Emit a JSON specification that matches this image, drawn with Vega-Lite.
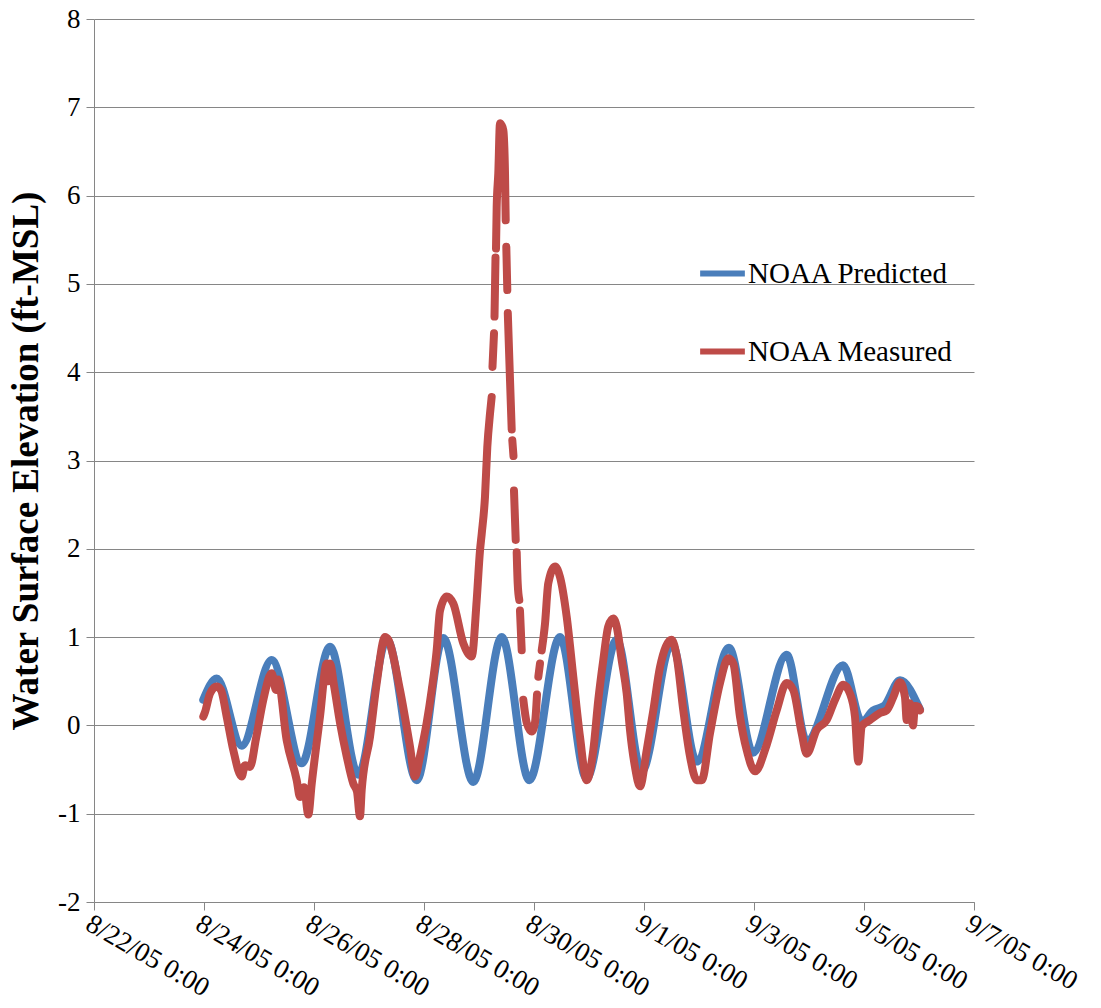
{
  "$schema": "https://vega.github.io/schema/vega-lite/v6.json",
  "width": 880,
  "height": 883,
  "autosize": "none",
  "padding": {"left": 94, "top": 19, "right": 127, "bottom": 106},
  "background": "white",
  "config": {
    "view": {"stroke": null},
    "font": "Liberation Serif",
    "axis": {"labelFont": "Liberation Serif", "titleFont": "Liberation Serif", "labelColor": "black", "titleColor": "black"}
  },
  "datasets": {
    "predicted": [
      {"time": "2005-08-23T23:40", "value": 0.29},
      {"time": "2005-08-24T05:32", "value": 0.53},
      {"time": "2005-08-24T16:27", "value": -0.23},
      {"time": "2005-08-25T05:32", "value": 0.74},
      {"time": "2005-08-25T18:38", "value": -0.43},
      {"time": "2005-08-26T06:59", "value": 0.89},
      {"time": "2005-08-26T19:20", "value": -0.56},
      {"time": "2005-08-27T07:51", "value": 0.97},
      {"time": "2005-08-27T20:49", "value": -0.62},
      {"time": "2005-08-28T08:25", "value": 0.99},
      {"time": "2005-08-28T21:31", "value": -0.64},
      {"time": "2005-08-29T09:55", "value": 1.0},
      {"time": "2005-08-29T21:57", "value": -0.62},
      {"time": "2005-08-30T11:21", "value": 1.0},
      {"time": "2005-08-30T22:55", "value": -0.6},
      {"time": "2005-08-31T12:05", "value": 0.97},
      {"time": "2005-08-31T23:00", "value": -0.52},
      {"time": "2005-09-01T12:05", "value": 0.93},
      {"time": "2005-09-01T23:00", "value": -0.41},
      {"time": "2005-09-02T13:05", "value": 0.88},
      {"time": "2005-09-02T23:34", "value": -0.31},
      {"time": "2005-09-03T14:16", "value": 0.8},
      {"time": "2005-09-03T23:00", "value": -0.18},
      {"time": "2005-09-04T14:50", "value": 0.68},
      {"time": "2005-09-04T23:08", "value": 0.04},
      {"time": "2005-09-05T03:56", "value": 0.17},
      {"time": "2005-09-05T08:44", "value": 0.22},
      {"time": "2005-09-05T15:43", "value": 0.51},
      {"time": "2005-09-06T00:26", "value": 0.18}
    ],
    "measured": [
      {"seg": "a", "time": "2005-08-23T23:42", "value": 0.1},
      {"seg": "a", "time": "2005-08-24T00:26", "value": 0.15},
      {"seg": "a", "time": "2005-08-24T02:37", "value": 0.36},
      {"seg": "a", "time": "2005-08-24T05:32", "value": 0.44},
      {"seg": "a", "time": "2005-08-24T07:25", "value": 0.4},
      {"seg": "a", "time": "2005-08-24T09:54", "value": 0.1},
      {"seg": "a", "time": "2005-08-24T12:47", "value": -0.28},
      {"seg": "a", "time": "2005-08-24T16:27", "value": -0.58},
      {"seg": "a", "time": "2005-08-24T17:53", "value": -0.45},
      {"seg": "a", "time": "2005-08-24T20:04", "value": -0.47},
      {"seg": "a", "time": "2005-08-24T22:41", "value": -0.15},
      {"seg": "a", "time": "2005-08-25T01:53", "value": 0.29},
      {"seg": "a", "time": "2005-08-25T05:32", "value": 0.59},
      {"seg": "a", "time": "2005-08-25T07:25", "value": 0.4},
      {"seg": "a", "time": "2005-08-25T08:17", "value": 0.52},
      {"seg": "a", "time": "2005-08-25T12:05", "value": -0.17},
      {"seg": "a", "time": "2005-08-25T16:27", "value": -0.62},
      {"seg": "a", "time": "2005-08-25T17:53", "value": -0.81},
      {"seg": "a", "time": "2005-08-25T19:38", "value": -0.7},
      {"seg": "a", "time": "2005-08-25T21:31", "value": -1.01},
      {"seg": "a", "time": "2005-08-25T23:00", "value": -0.66},
      {"seg": "a", "time": "2005-08-26T02:37", "value": 0.1},
      {"seg": "a", "time": "2005-08-26T05:32", "value": 0.7},
      {"seg": "a", "time": "2005-08-26T06:07", "value": 0.5},
      {"seg": "a", "time": "2005-08-26T06:59", "value": 0.7},
      {"seg": "a", "time": "2005-08-26T08:44", "value": 0.45},
      {"seg": "a", "time": "2005-08-26T11:21", "value": 0.03},
      {"seg": "a", "time": "2005-08-26T14:16", "value": -0.35},
      {"seg": "a", "time": "2005-08-26T17:09", "value": -0.66},
      {"seg": "a", "time": "2005-08-26T18:46", "value": -0.75},
      {"seg": "a", "time": "2005-08-26T20:04", "value": -1.03},
      {"seg": "a", "time": "2005-08-26T20:49", "value": -0.73},
      {"seg": "a", "time": "2005-08-27T00:26", "value": -0.13},
      {"seg": "a", "time": "2005-08-27T03:22", "value": 0.48},
      {"seg": "a", "time": "2005-08-27T06:59", "value": 1.0},
      {"seg": "a", "time": "2005-08-27T08:25", "value": 0.97},
      {"seg": "a", "time": "2005-08-27T13:32", "value": 0.4},
      {"seg": "a", "time": "2005-08-27T17:53", "value": -0.24},
      {"seg": "a", "time": "2005-08-27T20:04", "value": -0.58},
      {"seg": "a", "time": "2005-08-27T22:15", "value": -0.35},
      {"seg": "a", "time": "2005-08-28T01:11", "value": 0.03},
      {"seg": "a", "time": "2005-08-28T03:22", "value": 0.4},
      {"seg": "a", "time": "2005-08-28T05:32", "value": 0.85},
      {"seg": "a", "time": "2005-08-28T06:59", "value": 1.3},
      {"seg": "a", "time": "2005-08-28T09:54", "value": 1.46},
      {"seg": "a", "time": "2005-08-28T12:47", "value": 1.38},
      {"seg": "a", "time": "2005-08-28T17:09", "value": 0.93},
      {"seg": "a", "time": "2005-08-28T20:49", "value": 0.78},
      {"seg": "a", "time": "2005-08-28T23:00", "value": 1.42},
      {"seg": "a", "time": "2005-08-29T00:26", "value": 1.98},
      {"seg": "a", "time": "2005-08-29T01:11", "value": 2.17},
      {"seg": "a", "time": "2005-08-29T02:37", "value": 2.59},
      {"seg": "a", "time": "2005-08-29T03:37", "value": 3.15},
      {"seg": "a", "time": "2005-08-29T04:48", "value": 3.53},
      {"seg": "a", "time": "2005-08-29T05:32", "value": 3.72},
      {"seg": "b", "time": "2005-08-29T05:53", "value": 4.06},
      {"seg": "b", "time": "2005-08-29T06:33", "value": 4.44},
      {"seg": "c", "time": "2005-08-29T06:46", "value": 4.63},
      {"seg": "c", "time": "2005-08-29T07:12", "value": 5.3},
      {"seg": "d", "time": "2005-08-29T07:25", "value": 5.4},
      {"seg": "d", "time": "2005-08-29T07:43", "value": 5.87},
      {"seg": "d", "time": "2005-08-29T08:25", "value": 6.25},
      {"seg": "d", "time": "2005-08-29T09:10", "value": 6.82},
      {"seg": "d", "time": "2005-08-29T09:49", "value": 6.8},
      {"seg": "d", "time": "2005-08-29T10:36", "value": 6.74},
      {"seg": "d", "time": "2005-08-29T11:21", "value": 6.25},
      {"seg": "d", "time": "2005-08-29T11:39", "value": 5.72},
      {"seg": "e", "time": "2005-08-29T11:55", "value": 5.42},
      {"seg": "e", "time": "2005-08-29T12:21", "value": 4.93},
      {"seg": "f", "time": "2005-08-29T12:34", "value": 4.67},
      {"seg": "f", "time": "2005-08-29T13:32", "value": 3.91},
      {"seg": "f", "time": "2005-08-29T14:16", "value": 3.35},
      {"seg": "g", "time": "2005-08-29T14:32", "value": 3.23},
      {"seg": "g", "time": "2005-08-29T15:03", "value": 3.05},
      {"seg": "h", "time": "2005-08-29T15:16", "value": 2.66},
      {"seg": "h", "time": "2005-08-29T16:01", "value": 2.1},
      {"seg": "i", "time": "2005-08-29T16:27", "value": 1.96},
      {"seg": "i", "time": "2005-08-29T16:53", "value": 1.61},
      {"seg": "i", "time": "2005-08-29T17:35", "value": 1.42},
      {"seg": "j", "time": "2005-08-29T17:53", "value": 1.3},
      {"seg": "j", "time": "2005-08-29T18:38", "value": 0.85},
      {"seg": "k", "time": "2005-08-29T19:20", "value": 0.29},
      {"seg": "k", "time": "2005-08-29T20:49", "value": 0.03},
      {"seg": "k", "time": "2005-08-29T23:00", "value": -0.07},
      {"seg": "k", "time": "2005-08-30T00:26", "value": 0.03},
      {"seg": "k", "time": "2005-08-30T01:19", "value": 0.35},
      {"seg": "l", "time": "2005-08-30T01:53", "value": 0.55},
      {"seg": "l", "time": "2005-08-30T02:37", "value": 0.7},
      {"seg": "m", "time": "2005-08-30T03:22", "value": 0.85},
      {"seg": "m", "time": "2005-08-30T04:48", "value": 1.15},
      {"seg": "m", "time": "2005-08-30T06:14", "value": 1.61},
      {"seg": "m", "time": "2005-08-30T09:10", "value": 1.8},
      {"seg": "m", "time": "2005-08-30T11:21", "value": 1.68},
      {"seg": "m", "time": "2005-08-30T14:16", "value": 1.23},
      {"seg": "m", "time": "2005-08-30T17:09", "value": 0.55},
      {"seg": "m", "time": "2005-08-30T20:04", "value": -0.13},
      {"seg": "m", "time": "2005-08-30T22:59", "value": -0.62},
      {"seg": "m", "time": "2005-08-31T01:53", "value": -0.28},
      {"seg": "m", "time": "2005-08-31T04:04", "value": 0.29},
      {"seg": "m", "time": "2005-08-31T06:14", "value": 0.74},
      {"seg": "m", "time": "2005-08-31T08:25", "value": 1.12},
      {"seg": "m", "time": "2005-08-31T10:36", "value": 1.21},
      {"seg": "m", "time": "2005-08-31T12:05", "value": 1.12},
      {"seg": "m", "time": "2005-08-31T14:16", "value": 0.74},
      {"seg": "m", "time": "2005-08-31T16:27", "value": 0.36},
      {"seg": "m", "time": "2005-08-31T17:53", "value": -0.05},
      {"seg": "m", "time": "2005-08-31T20:04", "value": -0.47},
      {"seg": "m", "time": "2005-08-31T22:15", "value": -0.69},
      {"seg": "m", "time": "2005-09-01T01:11", "value": -0.28},
      {"seg": "m", "time": "2005-09-01T04:04", "value": 0.17},
      {"seg": "m", "time": "2005-09-01T06:59", "value": 0.66},
      {"seg": "m", "time": "2005-09-01T12:05", "value": 0.97},
      {"seg": "m", "time": "2005-09-01T14:16", "value": 0.78},
      {"seg": "m", "time": "2005-09-01T17:09", "value": 0.17},
      {"seg": "m", "time": "2005-09-01T20:04", "value": -0.35},
      {"seg": "m", "time": "2005-09-01T23:00", "value": -0.62},
      {"seg": "m", "time": "2005-09-02T01:11", "value": -0.62},
      {"seg": "m", "time": "2005-09-02T04:48", "value": -0.09},
      {"seg": "m", "time": "2005-09-02T09:10", "value": 0.48},
      {"seg": "m", "time": "2005-09-02T12:47", "value": 0.76},
      {"seg": "m", "time": "2005-09-02T14:58", "value": 0.7},
      {"seg": "m", "time": "2005-09-02T17:53", "value": 0.1},
      {"seg": "m", "time": "2005-09-02T20:49", "value": -0.28},
      {"seg": "m", "time": "2005-09-03T00:26", "value": -0.52},
      {"seg": "m", "time": "2005-09-03T05:32", "value": -0.22},
      {"seg": "m", "time": "2005-09-03T09:54", "value": 0.17},
      {"seg": "m", "time": "2005-09-03T14:16", "value": 0.48},
      {"seg": "m", "time": "2005-09-03T17:09", "value": 0.4},
      {"seg": "m", "time": "2005-09-03T20:49", "value": -0.09},
      {"seg": "m", "time": "2005-09-03T23:00", "value": -0.32},
      {"seg": "m", "time": "2005-09-04T03:22", "value": -0.05},
      {"seg": "m", "time": "2005-09-04T07:43", "value": 0.06},
      {"seg": "m", "time": "2005-09-04T11:21", "value": 0.29},
      {"seg": "m", "time": "2005-09-04T14:58", "value": 0.46},
      {"seg": "m", "time": "2005-09-04T17:53", "value": 0.36},
      {"seg": "m", "time": "2005-09-04T20:04", "value": 0.1},
      {"seg": "m", "time": "2005-09-04T21:31", "value": -0.41},
      {"seg": "m", "time": "2005-09-04T23:00", "value": -0.01},
      {"seg": "m", "time": "2005-09-05T02:37", "value": 0.06},
      {"seg": "m", "time": "2005-09-05T06:59", "value": 0.14},
      {"seg": "m", "time": "2005-09-05T09:54", "value": 0.17},
      {"seg": "m", "time": "2005-09-05T12:47", "value": 0.32},
      {"seg": "m", "time": "2005-09-05T15:43", "value": 0.49},
      {"seg": "m", "time": "2005-09-05T17:53", "value": 0.32},
      {"seg": "m", "time": "2005-09-05T18:38", "value": 0.06},
      {"seg": "m", "time": "2005-09-05T20:04", "value": 0.25},
      {"seg": "m", "time": "2005-09-05T21:23", "value": 0.0},
      {"seg": "m", "time": "2005-09-05T22:15", "value": 0.22},
      {"seg": "m", "time": "2005-09-05T23:42", "value": 0.21},
      {"seg": "m", "time": "2005-09-06T00:26", "value": 0.17}
    ]
  },
  "encoding": {
    "x": {
      "field": "time",
      "type": "temporal",
      "scale": {"domain": [{"year": 2005, "month": 8, "date": 22}, {"year": 2005, "month": 9, "date": 7}]},
      "axis": {
        "title": null,
        "values": [
          {"year": 2005, "month": 8, "date": 22},
          {"year": 2005, "month": 8, "date": 24},
          {"year": 2005, "month": 8, "date": 26},
          {"year": 2005, "month": 8, "date": 28},
          {"year": 2005, "month": 8, "date": 30},
          {"year": 2005, "month": 9, "date": 1},
          {"year": 2005, "month": 9, "date": 3},
          {"year": 2005, "month": 9, "date": 5},
          {"year": 2005, "month": 9, "date": 7}
        ],
        "format": "%-m/%-d/%y %-H:%M",
        "labelAngle": 30,
        "labelAlign": "left",
        "labelBaseline": "top",
        "labelFontSize": 27,
        "labelPadding": 0,
        "labelDx": 16,
        "labelDy": -8,
        "labelOverlap": false,
        "labelFlush": false,
        "labelLimit": 0,
        "grid": false,
        "domainColor": "#868686",
        "tickColor": "#868686",
        "tickSize": 8
      }
    },
    "y": {
      "field": "value",
      "type": "quantitative",
      "scale": {"domain": [-2, 8], "nice": false, "zero": false},
      "axis": {
        "title": "Water Surface Elevation (ft-MSL)",
        "titleFontSize": 37,
        "titleFontWeight": "bold",
        "titlePadding": 12,
        "values": [-2, -1, 0, 1, 2, 3, 4, 5, 6, 7, 8],
        "labelExpr": "'' + datum.value",
        "labelFontSize": 27,
        "labelPadding": 6,
        "grid": true,
        "gridColor": "#868686",
        "gridWidth": 1,
        "domainColor": "#868686",
        "tickColor": "#868686",
        "tickSize": 8
      }
    }
  },
  "layer": [
    {
      "data": {"name": "predicted"},
      "mark": {"type": "line", "strokeWidth": 8, "strokeCap": "round", "strokeJoin": "round", "interpolate": "monotone"},
      "encoding": {
        "color": {
          "datum": "NOAA Predicted",
          "type": "nominal",
          "scale": {"domain": ["NOAA Predicted", "NOAA Measured"], "range": ["#4A7EBB", "#BE4B48"]},
          "legend": {
            "title": null,
            "orient": "none",
            "legendX": 603,
            "legendY": 229,
            "symbolType": "stroke",
            "symbolSize": 2000,
            "symbolStrokeWidth": 6,
            "labelFont": "Liberation Serif",
            "labelFontSize": 29,
            "labelColor": "black",
            "labelLimit": 0,
            "labelOffset": 0,
            "rowPadding": 37
          }
        }
      }
    },
    {
      "data": {"name": "measured"},
      "mark": {"type": "line", "strokeWidth": 8, "strokeCap": "round", "strokeJoin": "round", "interpolate": "monotone"},
      "encoding": {
        "color": {"datum": "NOAA Measured", "type": "nominal"},
        "detail": {"field": "seg", "type": "nominal"}
      }
    }
  ]
}
